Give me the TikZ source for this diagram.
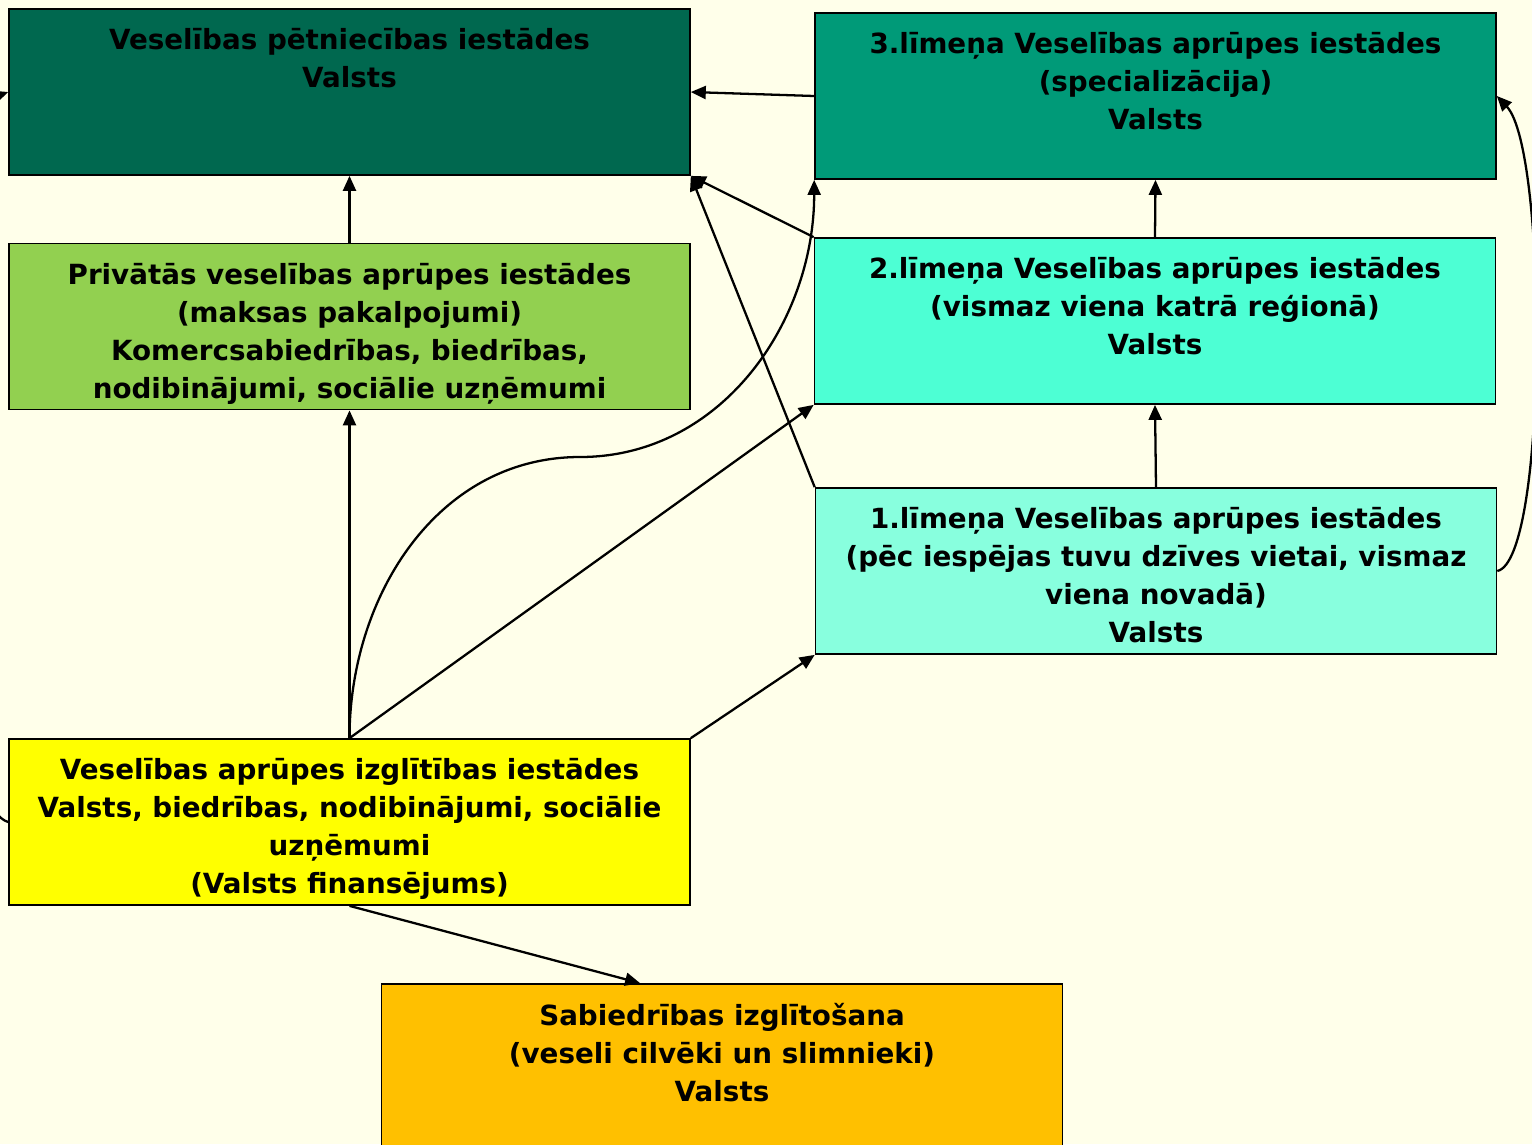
\documentclass[tikz,border=0pt]{standalone}
\usepackage{fontspec}
\setmainfont{DejaVu Sans}
\usepackage{tikz}
\usepackage{xcolor}
\usetikzlibrary{shapes,arrows.meta,positioning,calc}

\definecolor{bgcream}{RGB}{255,255,234}
\definecolor{researchgreen}{RGB}{0,104,79}
\definecolor{levelthree}{RGB}{0,154,120}
\definecolor{privategreen}{RGB}{146,208,80}
\definecolor{leveltwo}{RGB}{77,255,212}
\definecolor{levelone}{RGB}{136,255,222}
\definecolor{educyellow}{RGB}{255,255,0}
\definecolor{societyorange}{RGB}{255,192,0}

\begin{document}
\begin{tikzpicture}[x=0.02cm,y=-0.02cm]
            \tikzstyle{inst} = [rectangle, draw, line width=1pt, minimum width=13.62cm, minimum height=3.32cm, inner sep=0pt]
            \tikzstyle{txt} = [anchor=north, align=center, inner sep=0pt, font=\bfseries\fontsize{15.8}{21.6}\selectfont]
            \tikzstyle{arrow} = [line width=1.3pt,-{Triangle[length=0.3cm,width=0.26cm]}]

            \fill[bgcream] (0,0) rectangle (1532,1144);
            \clip (0,0) rectangle (1532,1144);

            \node [inst, fill=researchgreen] (research) at (349.5,92) {};
            \node [inst, fill=levelthree] (levelthree) at (1155.5,96) {};
            \node [inst, fill=privategreen] (private) at (349.5,326.5) {};
            \node [inst, fill=leveltwo] (leveltwo) at (1155,321) {};
            \node [inst, fill=levelone] (levelone) at (1156,571) {};
            \node [inst, fill=educyellow] (educ) at (349.5,822) {};
            \node [inst, fill=societyorange] (society) at (722,1067) {};

            \node [txt] (research-t) at ([yshift=-0.4cm]research.north) {Veselības pētniecības iestādes\\Valsts};
            \node [txt] (levelthree-t) at ([yshift=-0.4cm]levelthree.north) {3.līmeņa Veselības aprūpes iestādes\\(specializācija)\\Valsts};
            \node [txt] (private-t) at ([yshift=-0.4cm]private.north) {Privātās veselības aprūpes iestādes\\(maksas pakalpojumi)\\Komercsabiedrības, biedrības,\\nodibinājumi, sociālie uzņēmumi};
            \node [txt] (leveltwo-t) at ([yshift=-0.4cm]leveltwo.north) {2.līmeņa Veselības aprūpes iestādes\\(vismaz viena katrā reģionā)\\Valsts};
            \node [txt] (levelone-t) at ([yshift=-0.4cm]levelone.north) {1.līmeņa Veselības aprūpes iestādes\\(pēc iespējas tuvu dzīves vietai, vismaz\\viena novadā)\\Valsts};
            \node [txt] (educ-t) at ([yshift=-0.4cm]educ.north) {Veselības aprūpes izglītības iestādes\\Valsts, biedrības, nodibinājumi, sociālie\\uzņēmumi\\(Valsts finansējums)};
            \node [txt] (society-t) at ([yshift=-0.4cm]society.north) {Sabiedrības izglītošana\\(veseli cilvēki un slimnieki)\\Valsts};

            \coordinate (bend) at (580,457);

            \draw [arrow] (levelthree.west) -- (research.east);
            \draw [arrow] (private.north) -- (research.south);
            \draw [arrow] (leveltwo.north) -- (levelthree.south);
            \draw [arrow] (leveltwo.north west) -- (research.south east);
            \draw [arrow] (levelone.north west) -- (research.south east);
            \draw [arrow] (levelone.north) -- (leveltwo.south);
            \draw [arrow] (educ.north) -- (private.south);
            \draw [arrow] (educ.north) to[out=90,in=180] (bend) to[out=0,in=-90] (levelthree.south west);
            \draw [arrow] (educ.north) -- (leveltwo.south west);
            \draw [arrow] (educ.north east) -- (levelone.south west);
            \draw [arrow] (educ.south) -- ($(society.north west)!0.38!(society.north east)$);
            \draw [arrow] (levelone.east) .. controls (1548,560) and (1548,150) .. (levelthree.east);
            \draw [arrow] (educ.west) .. controls (-70,800) and (-70,120) .. (research.west);
        \end{tikzpicture}
\end{document}
